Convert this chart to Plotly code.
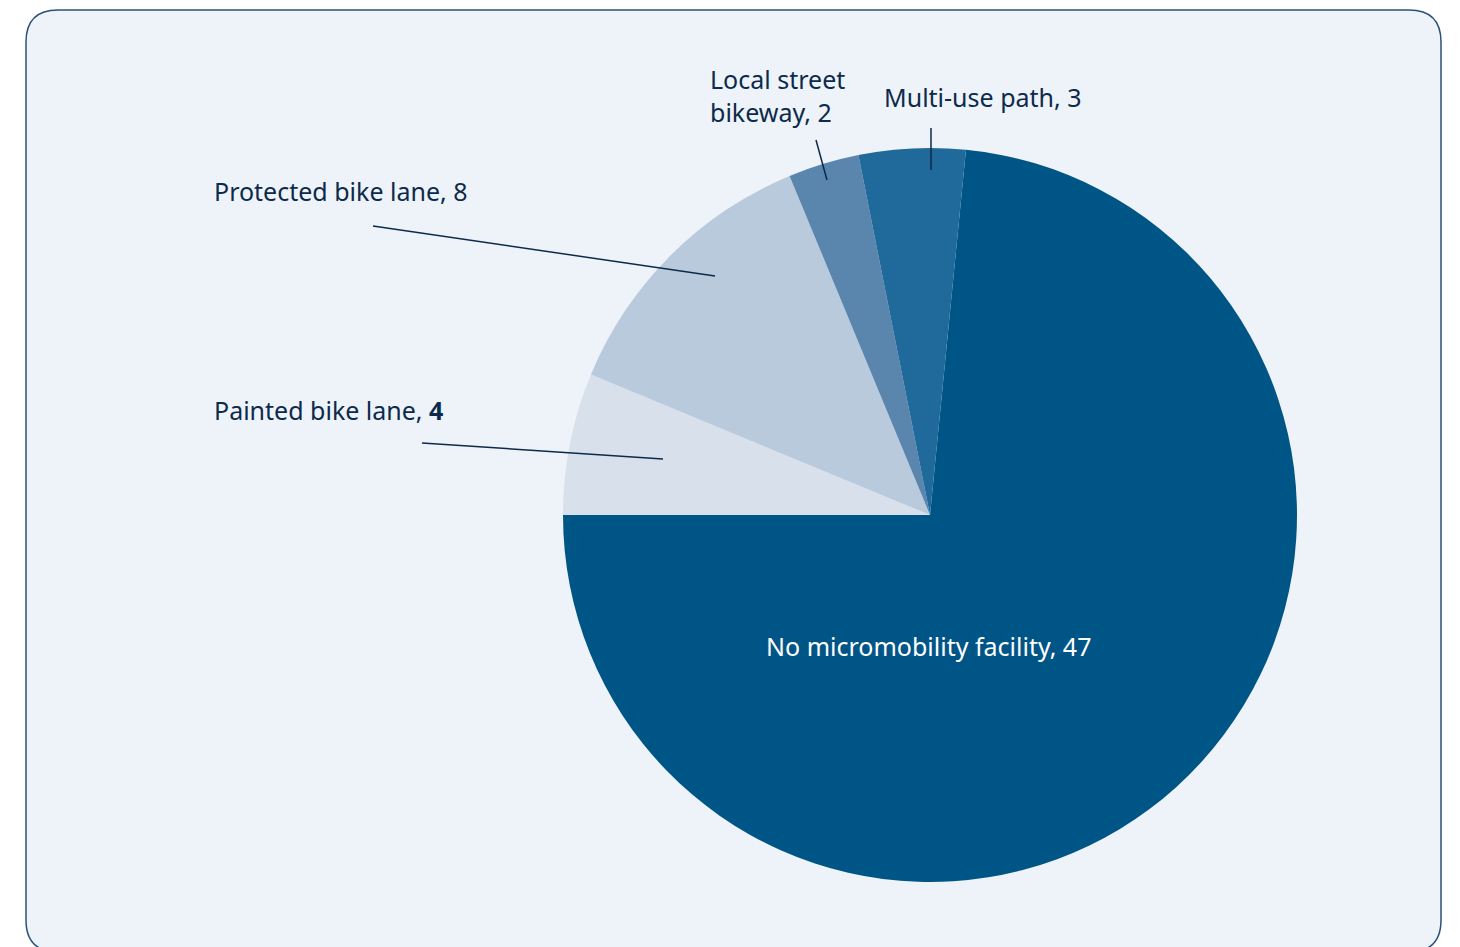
import plotly.graph_objects as go

# ---- data ----
categories = ["No micromobility facility", "Painted bike lane", "Protected bike lane",
              "Local street bikeway", "Multi-use path"]
values = [47, 4, 8, 2, 3]
colors = ["#005587", "#d8e0ec", "#bacadd", "#5a86ae", "#1f6a9a"]

W, H = 1460, 947
total = sum(values)
start_angle = 270 - 360 * values[0] / total  # big slice ends at 9 o'clock

def px(x):
    return x / W

def py(y):
    return 1 - y / H

# pie geometry in pixels
cx, cy, r = 930, 515, 367

fig = go.Figure(go.Pie(
    labels=categories,
    values=values,
    sort=False,
    direction="clockwise",
    rotation=start_angle,
    marker=dict(colors=colors, line=dict(width=0)),
    textinfo="none",
    hoverinfo="label+value",
    domain=dict(x=[px(cx - r), px(cx + r)], y=[py(cy + r), py(cy - r)]),
    showlegend=False,
))

font_family = "'Noto Sans', Lato, sans-serif"
dark = "#0c2a4a"

shapes = []
# rounded card
L, R, T, B, rad = 26, 1441, 10, 952, 32
path = (f"M {px(L+rad)},{py(T)} L {px(R-rad)},{py(T)} Q {px(R)},{py(T)} {px(R)},{py(T+rad)} "
        f"L {px(R)},{py(B-rad)} Q {px(R)},{py(B)} {px(R-rad)},{py(B)} "
        f"L {px(L+rad)},{py(B)} Q {px(L)},{py(B)} {px(L)},{py(B-rad)} "
        f"L {px(L)},{py(T+rad)} Q {px(L)},{py(T)} {px(L+rad)},{py(T)} Z")
shapes.append(dict(type="path", xref="paper", yref="paper", path=path,
                   fillcolor="#eef3fa", line=dict(color="#2b5278", width=1.5), layer="below"))

leaders = [((373, 226), (715, 276)),
           ((422, 443), (663, 459)),
           ((816, 140), (827, 180)),
           ((931, 128), (931, 170))]
for (x0, y0), (x1, y1) in leaders:
    shapes.append(dict(type="line", xref="paper", yref="paper",
                       x0=px(x0), y0=py(y0), x1=px(x1), y1=py(y1),
                       line=dict(color=dark, width=1.5), layer="above"))

fs = 25
annotations = [
    dict(text=f"{categories[2]}, {values[2]}", x=px(212), y=py(191), xanchor="left", yanchor="middle",
         font=dict(color=dark)),
    dict(text=f"{categories[1]}, <b>{values[1]}</b>", x=px(212), y=py(410), xanchor="left", yanchor="middle",
         font=dict(color=dark)),
    dict(text=f"Local street<br>bikeway, {values[3]}", x=px(708), y=py(95), xanchor="left", yanchor="middle",
         align="left", font=dict(color=dark)),
    dict(text=f"{categories[4]}, {values[4]}", x=px(882), y=py(97), xanchor="left", yanchor="middle",
         font=dict(color=dark)),
    dict(text=f"{categories[0]}, {values[0]}", x=px(928), y=py(646), xanchor="center", yanchor="middle",
         font=dict(color="white")),
]
for a in annotations:
    a.update(xref="paper", yref="paper", showarrow=False)
    a["font"].update(size=fs, family=font_family)

fig.update_layout(
    width=W, height=H,
    margin=dict(l=0, r=0, t=0, b=0),
    paper_bgcolor="white",
    plot_bgcolor="white",
    shapes=shapes,
    annotations=annotations,
    font=dict(family=font_family, color=dark),
)

fig.write_html("out.html", config={"displayModeBar": False},
               post_script="document.body.style.margin='0';document.body.style.overflow='hidden';")
